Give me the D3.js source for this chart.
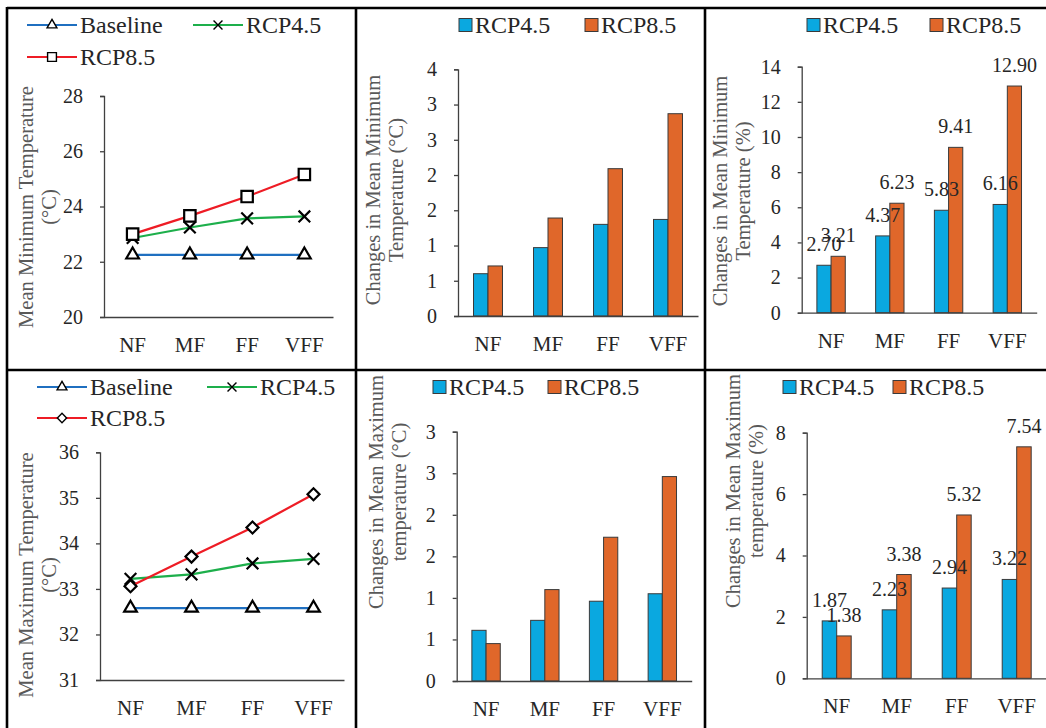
<!DOCTYPE html>
<html>
<head>
<meta charset="utf-8">
<script src="https://cdn.jsdelivr.net/npm/d3@7"></script>
<style>
  body { margin: 0; background: #fff; }
  svg { display: block; font-family: "Liberation Serif", "Times New Roman", serif; }
  .ejes path, .ejes line { stroke: #404040; stroke-width: 1.3; }
  .ejes text { fill: #262626; }
  .titulo { fill: #595959; font-size: 20.5px; }
  .leyenda { fill: #262626; font-size: 24px; }
  .etiqueta { fill: #262626; font-size: 20px; }
</style>
</head>
<body>
<div id="graf"></div>
<script>
const categories = ["NF", "MF", "FF", "VFF"]
const series = ["RCP4.5", "RCP8.5"]

// Mean minimum temperature
const tminBaseline = [22.25, 22.25, 22.25, 22.25]
const tminRcp45 = [22.86, 23.24, 23.57, 23.64]
const tminRcp85 = [23.0, 23.66, 24.36, 25.16]
const tminChange45 = [0.6, 0.97, 1.3, 1.37]
const tminChange85 = [0.71, 1.39, 2.09, 2.87]
const tminPct45 = [2.7, 4.37, 5.83, 6.16]
const tminPct85 = [3.21, 6.23, 9.41, 12.9]

// Mean maximum temperature
const tmaxBaseline = [32.58, 32.58, 32.58, 32.58]
const tmaxRcp45 = [33.22, 33.32, 33.56, 33.66]
const tmaxRcp85 = [33.06, 33.71, 34.35, 35.08]
const tmaxChange45 = [0.61, 0.73, 0.96, 1.05]
const tmaxChange85 = [0.45, 1.1, 1.73, 2.46]
const tmaxPct45 = [1.87, 2.23, 2.94, 3.22]
const tmaxPct85 = [1.38, 3.38, 5.32, 7.54]

// Ticks (the change axes show rounded labels)
const tminTicks = [20, 22, 24, 26, 28]
const tminChangeTicks = [0, 0.5, 1, 1.5, 2, 2.5, 3, 3.5]
const tminChangeLabels = ["0", "1", "1", "2", "2", "3", "3", "4"]
const tminPctTicks = [0, 2, 4, 6, 8, 10, 12, 14]
const tmaxTicks = [31, 32, 33, 34, 35, 36]
const tmaxChangeTicks = [0, 0.5, 1, 1.5, 2, 2.5, 3]
const tmaxChangeLabels = ["0", "1", "1", "2", "2", "3", "3"]
const tmaxPctTicks = [0, 2, 4, 6, 8]

const colores = { base: "#1F6FC0", rcp45: "#1DAF4B", rcp85: "#EE1C25" }
const barColores = ["#0AA8E0", "#E0672A"]

const svg = d3
  .select("#graf")
  .append("svg")
  .attr("width", 1046)
  .attr("height", 728)

const marker = (tipo, size) => {
  if (tipo == "triangle") return d3.symbol(d3.symbolTriangle, size)()
  if (tipo == "times") return d3.symbol(d3.symbolTimes, size)()
  return d3.symbol(d3.symbolSquare, size)()
}

const ejes = (g, x, y, p) => {
  g.append("g")
    .attr("class", "ejes")
    .attr("transform", `translate(${p.left}, 0)`)
    .call(
      d3.axisLeft(y)
        .tickValues(p.ticks)
        .tickFormat((d, i) => (p.tickLabels ? p.tickLabels[i] : d))
        .tickSize(4)
        .tickSizeOuter(4)
        .tickPadding(17)
    )
    .attr("font-family", null)
    .attr("font-size", 20)

  g.append("g")
    .attr("class", "ejes")
    .attr("transform", `translate(0, ${p.bottom})`)
    .call(d3.axisBottom(x).tickSize(0).tickSizeOuter(0).tickPadding(20))
    .attr("font-family", null)
    .attr("font-size", 21)

  const t = g
    .append("text")
    .attr("class", "titulo")
    .attr("transform", `translate(${p.titleX}, ${p.titleY}) rotate(-90)`)
    .attr("text-anchor", "middle")
  p.title.forEach((linea, i) => {
    t.append("tspan")
      .attr("x", 0)
      .attr("y", i * 22.5)
      .text(linea)
  })
}

const linePanel = (p) => {
  const g = svg.append("g")
  const x = d3.scaleBand().domain(categories).range([p.left, p.right])
  const y = d3.scaleLinear().domain(p.domain).range([p.bottom, p.top])
  ejes(g, x, y, p)

  const linea = d3
    .line()
    .x((d, i) => x(categories[i]) + x.bandwidth() / 2)
    .y((d) => y(d))

  p.lines.forEach((s) => {
    g.append("path")
      .attr("d", linea(s.values))
      .attr("fill", "none")
      .attr("stroke", s.color)
      .attr("stroke-width", 2.2)

    g.selectAll(null)
      .data(s.values)
      .enter()
      .append("path")
      .attr("d", marker(s.symbol, s.size))
      .attr(
        "transform",
        (d, i) =>
          `translate(${x(categories[i]) + x.bandwidth() / 2}, ${y(d)}) rotate(${s.rotate || 0})`
      )
      .attr("fill", "#fff")
      .attr("stroke", "#000")
      .attr("stroke-width", 2.2)
  })

  // leyenda
  p.lines.forEach((s, i) => {
    const pos = p.legend[i]
    const lg = g.append("g").attr("transform", `translate(${pos[0]}, ${pos[1]})`)
    lg.append("line")
      .attr("x1", 0)
      .attr("x2", 50)
      .attr("stroke", s.color)
      .attr("stroke-width", 2.2)
    lg.append("path")
      .attr("d", marker(s.symbol, s.size * 0.6))
      .attr("transform", `translate(25, 0) rotate(${s.rotate || 0})`)
      .attr("fill", "#fff")
      .attr("stroke", "#000")
      .attr("stroke-width", 1.4)
    lg.append("text")
      .attr("class", "leyenda")
      .attr("x", 53)
      .attr("y", 8)
      .text(s.label)
  })
}

const barPanel = (p) => {
  const g = svg.append("g")
  const x = d3.scaleBand().domain(categories).range([p.left, p.right])
  const xs = d3
    .scaleBand()
    .domain(series)
    .range([0, x.bandwidth()])
    .paddingOuter(1.07)
  const y = d3.scaleLinear().domain(p.domain).range([p.bottom, p.top])

  p.values.forEach((vals, j) => {
    g.selectAll(null)
      .data(vals)
      .enter()
      .append("rect")
      .attr("x", (d, i) => x(categories[i]) + xs(series[j]))
      .attr("y", (d) => y(d))
      .attr("width", xs.bandwidth())
      .attr("height", (d) => y(0) - y(d))
      .attr("fill", barColores[j])
      .attr("stroke", "#3a3a3a")
      .attr("stroke-width", 1)
  })

  ejes(g, x, y, p)

  // etiquetas encima de las barras
  if (p.labels) {
    p.values.forEach((vals, j) => {
      g.selectAll(null)
        .data(vals)
        .enter()
        .append("text")
        .attr("class", "etiqueta")
        .attr("x", (d, i) => x(categories[i]) + xs(series[j]) + xs.bandwidth() / 2)
        .attr("y", (d) => y(d) - 14)
        .attr("text-anchor", "middle")
        .text((d) => d.toFixed(2))
    })
  }

  series.forEach((s, j) => {
    const pos = p.legend[j]
    const lg = g.append("g").attr("transform", `translate(${pos}, ${p.legendY})`)
    lg.append("rect")
      .attr("x", 0)
      .attr("y", -6.5)
      .attr("width", 13)
      .attr("height", 13)
      .attr("fill", barColores[j])
      .attr("stroke", "#3a3a3a")
    lg.append("text")
      .attr("class", "leyenda")
      .attr("x", 16)
      .attr("y", 8)
      .text(s)
  })
}

linePanel({
  left: 104, right: 333, top: 96, bottom: 317,
  domain: [20, 28], ticks: tminTicks,
  title: ["Mean  Minimum Temperature", "(°C)"], titleX: 33, titleY: 207,
  legend: [[27, 25], [193, 25], [27, 57]],
  lines: [
    { values: tminBaseline, color: colores.base, symbol: "triangle", size: 70, label: "Baseline" },
    { values: tminRcp45, color: colores.rcp45, symbol: "times", size: 90, label: "RCP4.5" },
    { values: tminRcp85, color: colores.rcp85, symbol: "square", size: 130, label: "RCP8.5" },
  ],
})

barPanel({
  left: 458, right: 698, top: 69.3, bottom: 316,
  domain: [0, 3.5], ticks: tminChangeTicks, tickLabels: tminChangeLabels,
  title: ["Changes in Mean Minimum", "Temperature (°C)"], titleX: 380, titleY: 190,
  values: [tminChange45, tminChange85],
  legend: [459, 585], legendY: 25,
})

barPanel({
  left: 801.7, right: 1036.7, top: 66.7, bottom: 312.7,
  domain: [0, 14], ticks: tminPctTicks,
  title: ["Changes in Mean Minimum", "Temperature (%)"], titleX: 727, titleY: 191,
  values: [tminPct45, tminPct85], labels: true,
  legend: [807, 930], legendY: 25,
})

linePanel({
  left: 100, right: 344, top: 452.3, bottom: 680,
  domain: [31, 36], ticks: tmaxTicks,
  title: ["Mean Maximum Temperature", "(°C)"], titleX: 33, titleY: 575,
  legend: [[37, 387], [207, 387], [37, 418]],
  lines: [
    { values: tmaxBaseline, color: colores.base, symbol: "triangle", size: 70, label: "Baseline" },
    { values: tmaxRcp45, color: colores.rcp45, symbol: "times", size: 90, label: "RCP4.5" },
    { values: tmaxRcp85, color: colores.rcp85, symbol: "square", size: 72, rotate: 45, label: "RCP8.5" },
  ],
})

barPanel({
  left: 456.7, right: 691.7, top: 431.7, bottom: 681,
  domain: [0, 3], ticks: tmaxChangeTicks, tickLabels: tmaxChangeLabels,
  title: ["Changes in Mean Maximum", "temperature (°C)"], titleX: 383, titleY: 492,
  values: [tmaxChange45, tmaxChange85],
  legend: [433, 548], legendY: 387,
})

barPanel({
  left: 806.7, right: 1046.7, top: 432.7, bottom: 678.3,
  domain: [0, 8], ticks: tmaxPctTicks,
  title: ["Changes in Mean Maximum", "temperature (%)"], titleX: 740, titleY: 491,
  values: [tmaxPct45, tmaxPct85], labels: true,
  legend: [783, 893], legendY: 387,
})

// bordes de la tabla
const bordes = svg.append("g").attr("stroke", "#000").attr("stroke-width", 2.6)
bordes.append("line").attr("x1", 7).attr("x2", 1046).attr("y1", 8).attr("y2", 8)
bordes.append("line").attr("x1", 7).attr("x2", 1046).attr("y1", 370).attr("y2", 370)
;[7, 356, 705].forEach((bx) => {
  bordes.append("line").attr("x1", bx).attr("x2", bx).attr("y1", 7).attr("y2", 728)
})
</script>
</body>
</html>
